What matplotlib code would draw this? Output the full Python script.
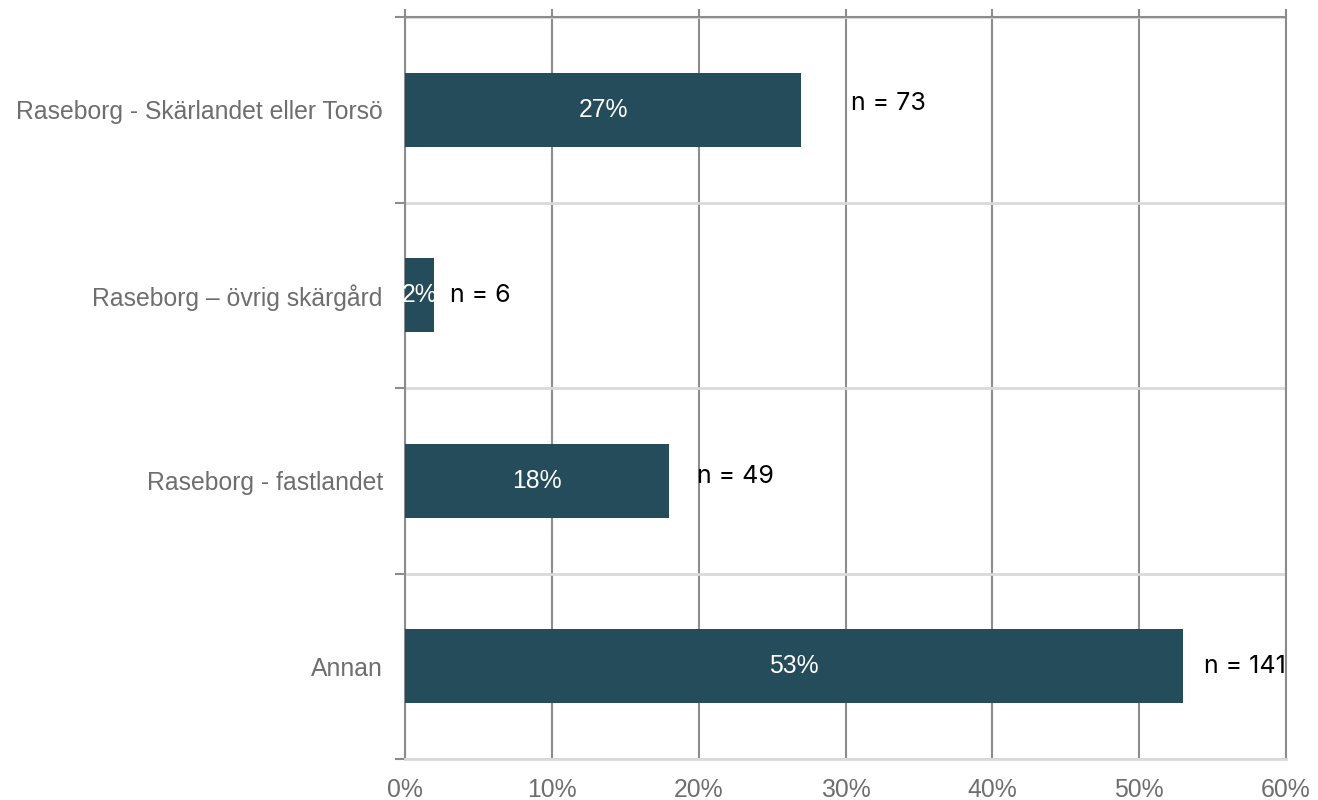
import matplotlib
matplotlib.use("Agg")
import matplotlib.pyplot as plt
import numpy as np

categories = ["Raseborg - Skärlandet eller Torsö", "Raseborg – övrig skärgård",
              "Raseborg - fastlandet", "Annan"]
values = [27, 2, 18, 53]
n_labels = ["n = 73", "n = 6", "n = 49", "n = 141"]
n_label_x = [30.4, 3.05, 19.9, 54.4]
n_label_dy = [0.035, 0.0, 0.025, 0.0]
xticks = [0, 10, 20, 30, 40, 50, 60]

bar_color = "#244C5A"
dark_grid = "#8C8C8C"
light_grid = "#D9D9D9"
label_gray = "#6E6E6E"
fs = 17.8

fig = plt.figure(figsize=(13.18, 8.0), dpi=100)
ax = fig.add_axes([405/1318, 1-759/800, (1286-405)/1318, (759-17)/800])

ncat = len(categories)
ypos = np.arange(ncat)[::-1]  # first category on top
bars = ax.barh(ypos, values, height=0.40, color=bar_color, zorder=3)

ax.set_xlim(0, 60)
ax.set_ylim(-0.5, ncat - 0.5)

# x ticks / gridlines
ax.set_xticks(xticks)
ax.set_xticklabels([f"{t}%" for t in xticks], color=label_gray, fontsize=fs,
                   family="Liberation Sans")
ax.tick_params(axis="x", which="major", bottom=False, top=True, length=6,
               color=dark_grid, width=1.5, pad=7.5)
ax.xaxis.grid(True, color=dark_grid, linewidth=1.5, zorder=1)

# y ticks: labels at centers, tick marks at boundaries
ax.set_yticks(ypos)
ax.set_yticklabels(categories, color=label_gray, fontsize=fs, family="Liberation Sans")
ax.tick_params(axis="y", which="major", length=0, pad=16)
bounds = np.arange(-0.5, ncat, 1.0)
ax.set_yticks(bounds, minor=True)
ax.tick_params(axis="y", which="minor", length=7, color=dark_grid, width=1.5, direction="out")
ax.yaxis.grid(True, which="minor", color=light_grid, linewidth=2, zorder=1)

for side in ["left", "top", "right"]:
    ax.spines[side].set_color(dark_grid)
    ax.spines[side].set_linewidth(1.5)
ax.spines["bottom"].set_color(light_grid)
ax.spines["bottom"].set_linewidth(2)

# value labels inside bars (clipped to bar)
for b, v, y in zip(bars, values, ypos):
    t = ax.text(v / 2, y, f"{v}%", ha="center", va="center", color="white",
                fontsize=fs, family="Liberation Sans", zorder=4)
    t.set_clip_path(b)

# n labels
for lbl, x, y, dy in zip(n_labels, n_label_x, ypos, n_label_dy):
    ax.text(x, y + dy, lbl, ha="left", va="center", color="black",
            fontsize=18, family="Inter", zorder=4)

fig.savefig("out.png", dpi=100)
